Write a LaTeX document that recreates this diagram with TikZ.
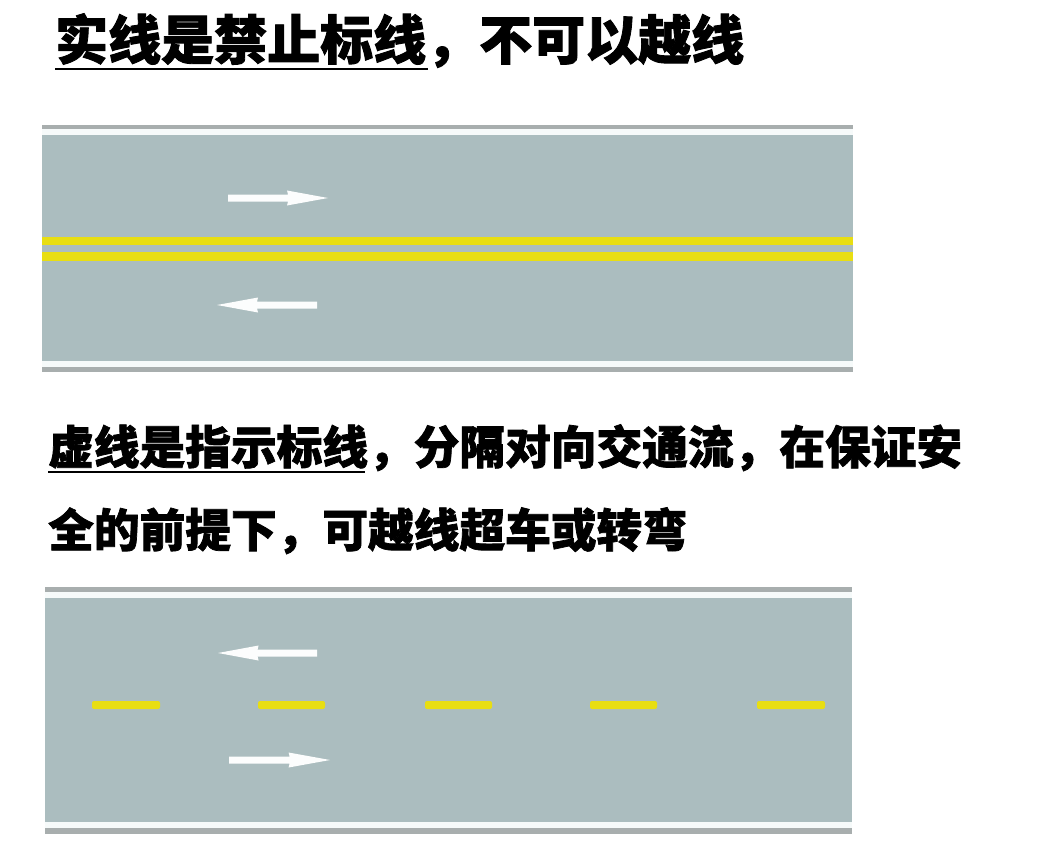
\documentclass[tikz,border=0pt]{standalone}
\usepackage{fontspec}
\newfontfamily\cjk{Noto Sans CJK SC}[BoldFeatures={FakeBold=1.6}]
\definecolor{roadgray}{RGB}{171,189,191}
\definecolor{edgegray}{RGB}{168,174,174}
\definecolor{edgewhite}{RGB}{246,250,250}
\definecolor{laneyellow}{RGB}{232,222,18}
\definecolor{arrowwhite}{RGB}{252,253,253}
\tikzset{
  txtA/.style={inner sep=0pt, font=\cjk\bfseries\fontsize{53}{60}\selectfont},
  txtB/.style={inner sep=0pt, font=\cjk\bfseries\fontsize{45.7}{52}\selectfont},
  uline/.style={line width=2pt, black},
  dashmark/.style={fill=laneyellow, rounded corners=2pt},
  laneline/.style={fill=laneyellow},
  rarrow/.pic={\fill[arrowwhite] (0,-3.5) -- (60,-3.5) -- (59,-7.5) -- (100,0) -- (59,7.5) -- (60,3.5) -- (0,3.5) -- cycle;}
}
\begin{document}
\begin{tikzpicture}[x=1pt,y=-1pt]
\useasboundingbox (0,0) rectangle (1058,856);
\fill[white] (0,0) rectangle (1058,856);
% ---- title
\node[txtA, anchor=base west] (t1) at (55,59.5) {实线是禁止标线，不可以越线};
\draw[uline] (55,69) -- (428,69);
% ---- road 1 (solid double yellow)
\fill[edgegray] (42,125) rectangle (853,372);
\fill[edgewhite] (42,129.5) rectangle (853,366.5);
\fill[roadgray] (42,135) rectangle (853,360.5);
\fill[laneline] (42,237) rectangle (853,245);
\fill[laneline] (42,252) rectangle (853,260.5);
\pic at (228,198) {rarrow};
\pic[xscale=-1] at (317,305) {rarrow};
% ---- second text
\node[txtB, anchor=base west] (t2) at (48,464) {虚线是指示标线，分隔对向交通流，在保证安};
\node[txtB, anchor=base west] (t3) at (48,547) {全的前提下，可越线超车或转弯};
\draw[uline] (48,472) -- (365,472);
% ---- road 2 (dashed yellow)
\fill[edgegray] (45,587) rectangle (852,834);
\fill[edgewhite] (45,592) rectangle (852,828);
\fill[roadgray] (45,598) rectangle (852,822);
\foreach \a/\b in {92/160,258/325,425/492,590/657,757/825}
  \fill[dashmark] (\a,701) rectangle (\b,709);
\pic[xscale=-0.99] at (317,653) {rarrow};
\pic[xscale=1.01] at (229,760) {rarrow};
\end{tikzpicture}
\end{document}
